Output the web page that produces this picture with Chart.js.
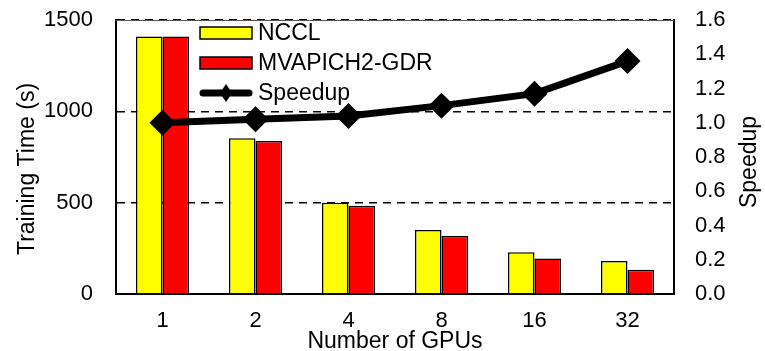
<!DOCTYPE html>
<html>
<head>
<meta charset="utf-8">
<script src="https://cdn.jsdelivr.net/npm/chart.js@4.4.1/dist/chart.umd.min.js"></script>
<style>
  html, body { margin: 0; padding: 0; background: #fff; }
  #wrap { width: 765px; height: 351px; position: relative; }
</style>
</head>
<body>
<div id="wrap"><canvas id="c" width="765" height="351"></canvas></div>
<script>
// GPU counts on the x axis
const gpuCounts = ['1', '2', '4', '8', '16', '32'];
// Training time in seconds
const ncclTime = [1410, 852, 500, 350, 228, 181];
const mvapichTime = [1410, 838, 483, 317, 195, 133];
// Speedup of MVAPICH2-GDR over NCCL
const speedup = [1.00, 1.02, 1.04, 1.10, 1.17, 1.36];
// Axis tick settings
const timeTicks = { min: 0, max: 1500, step: 500 };
const speedupTicks = { min: 0, max: 1.6, step: 0.2 };

const FONT = "'Liberation Sans', Arial, sans-serif";

// Legend drawn inside the plot, to the right of the first group of bars
const insideLegend = {
  id: 'insideLegend',
  afterDatasetsDraw(chart) {
    const ctx = chart.ctx;
    const x0 = 200, w = 52, tx = 258;
    const rows = [33, 63, 93];
    ctx.save();
    ctx.font = '23px ' + FONT;
    ctx.textBaseline = 'middle';
    ctx.fillStyle = '#000';
    // bar swatches
    [['#ffff00', 'NCCL'], ['#ff0000', 'MVAPICH2-GDR']].forEach(([col, label], i) => {
      const y = rows[i];
      ctx.fillStyle = col;
      ctx.fillRect(x0, y - 6, w, 12);
      ctx.strokeStyle = '#000';
      ctx.lineWidth = 1.5;
      ctx.strokeRect(x0, y - 6, w, 12);
      ctx.fillStyle = '#000';
      ctx.fillText(label, tx, y + 1);
    });
    // line swatch with diamond marker
    const y = rows[2];
    ctx.strokeStyle = '#000';
    ctx.lineWidth = 7;
    ctx.lineCap = 'round';
    ctx.beginPath();
    ctx.moveTo(x0 + 3, y);
    ctx.lineTo(x0 + w - 3, y);
    ctx.stroke();
    ctx.beginPath();
    const cx = x0 + w / 2;
    ctx.moveTo(cx, y - 9);
    ctx.lineTo(cx + 6, y);
    ctx.lineTo(cx, y + 9);
    ctx.lineTo(cx - 6, y);
    ctx.closePath();
    ctx.fill();
    ctx.fillText('Speedup', tx, y + 1);
    ctx.restore();
  }
};

// Thin solid top edge of the plot frame
const topEdge = {
  id: 'topEdge',
  beforeDatasetsDraw(chart) {
    const { ctx, chartArea: a } = chart;
    ctx.save();
    ctx.strokeStyle = '#555';
    ctx.lineWidth = 1;
    ctx.beginPath();
    ctx.moveTo(a.left, a.top + 0.5);
    ctx.lineTo(a.right, a.top + 0.5);
    ctx.stroke();
    ctx.restore();
  }
};

// Vertical axis titles, both reading bottom to top
const sideTitles = {
  id: 'sideTitles',
  afterDraw(chart) {
    const ctx = chart.ctx;
    ctx.save();
    ctx.font = '23px ' + FONT;
    ctx.fillStyle = '#000';
    ctx.textAlign = 'center';
    ctx.textBaseline = 'middle';
    [['Training Time (s)', 28, 169], ['Speedup', 750, 162]].forEach(([t, x, y]) => {
      ctx.save();
      ctx.translate(x, y);
      ctx.rotate(-Math.PI / 2);
      ctx.fillText(t, 0, 0);
      ctx.restore();
    });
    ctx.restore();
  }
};

function noEdgePadding(s) {
  s.paddingTop = 0;
  s.paddingBottom = 0;
  s.paddingLeft = 0;
  s.paddingRight = 0;
}

new Chart(document.getElementById('c'), {
  data: {
    labels: gpuCounts,
    datasets: [
      {
        type: 'line',
        label: 'Speedup',
        data: speedup,
        yAxisID: 'y1',
        order: 0,
        borderColor: '#000',
        backgroundColor: '#000',
        borderWidth: 7,
        tension: 0,
        pointStyle: 'rectRot',
        pointRadius: 13,
        pointHoverRadius: 13,
        pointBackgroundColor: '#000',
        pointBorderColor: '#000',
        pointBorderWidth: 0
      },
      {
        type: 'bar',
        label: 'NCCL',
        data: ncclTime,
        yAxisID: 'y',
        order: 1,
        backgroundColor: '#ffff00',
        borderColor: '#000',
        borderWidth: 1.5,
        borderSkipped: 'start',
        categoryPercentage: 0.57,
        barPercentage: 1.0
      },
      {
        type: 'bar',
        label: 'MVAPICH2-GDR',
        data: mvapichTime,
        yAxisID: 'y',
        order: 1,
        backgroundColor: '#ff0000',
        borderColor: '#000',
        borderWidth: 1.5,
        borderSkipped: 'start',
        categoryPercentage: 0.57,
        barPercentage: 1.0
      }
    ]
  },
  options: {
    responsive: false,
    animation: false,
    events: [],
    layout: { padding: { top: 20, left: 0, right: 0, bottom: 0 } },
    plugins: {
      legend: { display: false },
      tooltip: { enabled: false }
    },
    scales: {
      x: {
        grid: { display: false, drawTicks: false },
        border: { display: true, color: '#000', width: 2 },
        ticks: { color: '#000', font: { family: FONT, size: 22 }, padding: 14 },
        title: {
          display: true,
          text: 'Number of GPUs',
          color: '#000',
          font: { family: FONT, size: 23, lineHeight: 1 },
          padding: { top: 0, bottom: -2 }
        },
        afterFit(s) { s.height = 57; noEdgePadding(s); }
      },
      y: {
        position: 'left',
        min: timeTicks.min,
        max: timeTicks.max,
        ticks: {
          stepSize: timeTicks.step,
          color: '#000',
          font: { family: FONT, size: 22 },
          padding: 23,
          callback: (v) => String(v)
        },
        grid: {
          drawTicks: false,
          color: (c) => (c.tick && c.tick.value === 0 ? 'rgba(0,0,0,0)' : '#000'),
          lineWidth: 1.5
        },
        border: { display: true, color: '#000', width: 2, dash: [8, 6] },
        title: { display: false },
        afterFit(s) { s.width = 116; noEdgePadding(s); }
      },
      y1: {
        position: 'right',
        min: speedupTicks.min,
        max: speedupTicks.max,
        ticks: {
          stepSize: speedupTicks.step,
          color: '#000',
          font: { family: FONT, size: 22 },
          padding: 21,
          callback: (v) => Number(v).toFixed(1)
        },
        grid: { display: false, drawTicks: false },
        border: { display: true, color: '#000', width: 2 },
        title: { display: false },
        afterFit(s) { s.width = 91; noEdgePadding(s); }
      }
    }
  },
  plugins: [topEdge, insideLegend, sideTitles]
});
</script>
</body>
</html>
